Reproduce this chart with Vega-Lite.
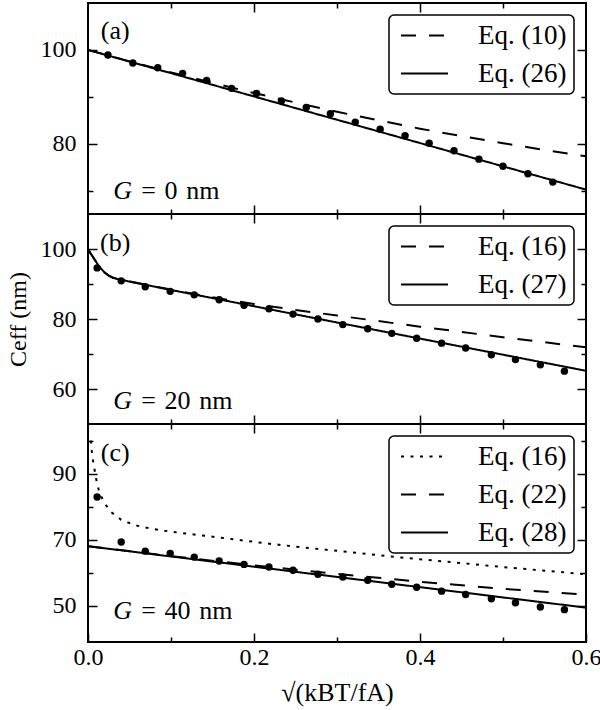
{
  "$schema": "https://vega.github.io/schema/vega-lite/v6.json",
  "background": "white",
  "padding": {"left": 5, "top": 1, "right": 8, "bottom": 5},
  "datasets": {
    "d": [
      {"p":"a","k":"pt","x":0.024,"y":98.9},{"p":"a","k":"pt","x":0.054,"y":97.2},{"p":"a","k":"pt","x":0.084,"y":96.2},{"p":"a","k":"pt","x":0.114,"y":95.0},{"p":"a","k":"pt","x":0.143,"y":93.5},{"p":"a","k":"pt","x":0.173,"y":91.8},{"p":"a","k":"pt","x":0.203,"y":90.7},{"p":"a","k":"pt","x":0.233,"y":89.1},{"p":"a","k":"pt","x":0.263,"y":87.7},{"p":"a","k":"pt","x":0.292,"y":86.4},{"p":"a","k":"pt","x":0.322,"y":84.6},{"p":"a","k":"pt","x":0.352,"y":83.1},{"p":"a","k":"pt","x":0.382,"y":81.7},{"p":"a","k":"pt","x":0.411,"y":80.1},{"p":"a","k":"pt","x":0.441,"y":78.5},{"p":"a","k":"pt","x":0.471,"y":76.7},{"p":"a","k":"pt","x":0.500,"y":75.2},{"p":"a","k":"pt","x":0.530,"y":73.6},{"p":"a","k":"pt","x":0.560,"y":71.8},
      {"p":"a","k":"line","s":"Eq. (10)","x":0,"y":100},{"p":"a","k":"line","s":"Eq. (10)","x":0.05,"y":97.55},{"p":"a","k":"line","s":"Eq. (10)","x":0.1,"y":95.2},{"p":"a","k":"line","s":"Eq. (10)","x":0.15,"y":92.96},{"p":"a","k":"line","s":"Eq. (10)","x":0.2,"y":90.8},{"p":"a","k":"line","s":"Eq. (10)","x":0.25,"y":88.77},{"p":"a","k":"line","s":"Eq. (10)","x":0.3,"y":86.8},{"p":"a","k":"line","s":"Eq. (10)","x":0.35,"y":84.99},{"p":"a","k":"line","s":"Eq. (10)","x":0.4,"y":83.2},{"p":"a","k":"line","s":"Eq. (10)","x":0.45,"y":81.61},{"p":"a","k":"line","s":"Eq. (10)","x":0.5,"y":80.1},{"p":"a","k":"line","s":"Eq. (10)","x":0.55,"y":78.64},{"p":"a","k":"line","s":"Eq. (10)","x":0.6,"y":77.3},
      {"p":"a","k":"line","s":"Eq. (26)","x":0,"y":100},{"p":"a","k":"line","s":"Eq. (26)","x":0.3,"y":85.1},{"p":"a","k":"line","s":"Eq. (26)","x":0.6,"y":70.2},

      {"p":"b","k":"pt","x":0.011,"y":94.6},{"p":"b","k":"pt","x":0.040,"y":90.9},{"p":"b","k":"pt","x":0.069,"y":89.2},{"p":"b","k":"pt","x":0.099,"y":87.9},{"p":"b","k":"pt","x":0.128,"y":86.9},{"p":"b","k":"pt","x":0.158,"y":85.5},{"p":"b","k":"pt","x":0.188,"y":83.9},{"p":"b","k":"pt","x":0.218,"y":82.9},{"p":"b","k":"pt","x":0.247,"y":81.4},{"p":"b","k":"pt","x":0.277,"y":80.0},{"p":"b","k":"pt","x":0.307,"y":78.4},{"p":"b","k":"pt","x":0.337,"y":77.2},{"p":"b","k":"pt","x":0.366,"y":75.9},{"p":"b","k":"pt","x":0.396,"y":74.5},{"p":"b","k":"pt","x":0.426,"y":73.1},{"p":"b","k":"pt","x":0.455,"y":71.7},{"p":"b","k":"pt","x":0.486,"y":69.8},{"p":"b","k":"pt","x":0.515,"y":68.4},{"p":"b","k":"pt","x":0.545,"y":66.9},{"p":"b","k":"pt","x":0.574,"y":65.1},
      {"p":"b","k":"line","s":"Eq. (16)","x":0,"y":100},{"p":"b","k":"line","s":"Eq. (16)","x":0.003,"y":98.8},{"p":"b","k":"line","s":"Eq. (16)","x":0.006,"y":97.7},{"p":"b","k":"line","s":"Eq. (16)","x":0.009,"y":96.6},{"p":"b","k":"line","s":"Eq. (16)","x":0.012,"y":95.5},{"p":"b","k":"line","s":"Eq. (16)","x":0.016,"y":94.3},{"p":"b","k":"line","s":"Eq. (16)","x":0.02,"y":93.3},{"p":"b","k":"line","s":"Eq. (16)","x":0.025,"y":92.4},{"p":"b","k":"line","s":"Eq. (16)","x":0.03,"y":91.8},{"p":"b","k":"line","s":"Eq. (16)","x":0.036,"y":91.4},{"p":"b","k":"line","s":"Eq. (16)","x":0.05,"y":90.7},{"p":"b","k":"line","s":"Eq. (16)","x":0.075,"y":89.5},{"p":"b","k":"line","s":"Eq. (16)","x":0.1,"y":88.4},{"p":"b","k":"line","s":"Eq. (16)","x":0.15,"y":86.2},{"p":"b","k":"line","s":"Eq. (16)","x":0.2,"y":84.3},{"p":"b","k":"line","s":"Eq. (16)","x":0.25,"y":82.6},{"p":"b","k":"line","s":"Eq. (16)","x":0.3,"y":81.0},{"p":"b","k":"line","s":"Eq. (16)","x":0.4,"y":77.8},{"p":"b","k":"line","s":"Eq. (16)","x":0.5,"y":74.8},{"p":"b","k":"line","s":"Eq. (16)","x":0.6,"y":71.9},
      {"p":"b","k":"line","s":"Eq. (27)","x":0,"y":100},{"p":"b","k":"line","s":"Eq. (27)","x":0.003,"y":98.8},{"p":"b","k":"line","s":"Eq. (27)","x":0.006,"y":97.7},{"p":"b","k":"line","s":"Eq. (27)","x":0.009,"y":96.6},{"p":"b","k":"line","s":"Eq. (27)","x":0.012,"y":95.5},{"p":"b","k":"line","s":"Eq. (27)","x":0.016,"y":94.3},{"p":"b","k":"line","s":"Eq. (27)","x":0.02,"y":93.3},{"p":"b","k":"line","s":"Eq. (27)","x":0.025,"y":92.4},{"p":"b","k":"line","s":"Eq. (27)","x":0.03,"y":91.8},{"p":"b","k":"line","s":"Eq. (27)","x":0.036,"y":91.4},{"p":"b","k":"line","s":"Eq. (27)","x":0.05,"y":90.7},{"p":"b","k":"line","s":"Eq. (27)","x":0.1,"y":88.3},{"p":"b","k":"line","s":"Eq. (27)","x":0.3,"y":79.0},{"p":"b","k":"line","s":"Eq. (27)","x":0.6,"y":65.2},

      {"p":"c","k":"pt","x":0.011,"y":82.9},{"p":"c","k":"pt","x":0.040,"y":69.3},{"p":"c","k":"pt","x":0.069,"y":66.5},{"p":"c","k":"pt","x":0.099,"y":65.8},{"p":"c","k":"pt","x":0.128,"y":64.7},{"p":"c","k":"pt","x":0.158,"y":63.5},{"p":"c","k":"pt","x":0.188,"y":62.5},{"p":"c","k":"pt","x":0.218,"y":61.7},{"p":"c","k":"pt","x":0.247,"y":60.7},{"p":"c","k":"pt","x":0.277,"y":59.5},{"p":"c","k":"pt","x":0.307,"y":58.7},{"p":"c","k":"pt","x":0.337,"y":57.7},{"p":"c","k":"pt","x":0.366,"y":56.5},{"p":"c","k":"pt","x":0.396,"y":55.6},{"p":"c","k":"pt","x":0.426,"y":54.4},{"p":"c","k":"pt","x":0.455,"y":53.4},{"p":"c","k":"pt","x":0.486,"y":52.1},{"p":"c","k":"pt","x":0.515,"y":50.9},{"p":"c","k":"pt","x":0.545,"y":49.6},{"p":"c","k":"pt","x":0.574,"y":48.8},
      {"p":"c","k":"line","s":"Eq. (16)","x":0.0035,"y":100},{"p":"c","k":"line","s":"Eq. (16)","x":0.0045,"y":97},{"p":"c","k":"line","s":"Eq. (16)","x":0.006,"y":94},{"p":"c","k":"line","s":"Eq. (16)","x":0.008,"y":91},{"p":"c","k":"line","s":"Eq. (16)","x":0.0105,"y":87.5},{"p":"c","k":"line","s":"Eq. (16)","x":0.013,"y":85},{"p":"c","k":"line","s":"Eq. (16)","x":0.0157,"y":83.2},{"p":"c","k":"line","s":"Eq. (16)","x":0.02,"y":81},{"p":"c","k":"line","s":"Eq. (16)","x":0.028,"y":78.3},{"p":"c","k":"line","s":"Eq. (16)","x":0.04,"y":76},{"p":"c","k":"line","s":"Eq. (16)","x":0.056,"y":74.4},{"p":"c","k":"line","s":"Eq. (16)","x":0.076,"y":73.3},{"p":"c","k":"line","s":"Eq. (16)","x":0.1,"y":72.4},{"p":"c","k":"line","s":"Eq. (16)","x":0.136,"y":71.3},{"p":"c","k":"line","s":"Eq. (16)","x":0.169,"y":70.3},{"p":"c","k":"line","s":"Eq. (16)","x":0.217,"y":68.8},{"p":"c","k":"line","s":"Eq. (16)","x":0.257,"y":67.7},{"p":"c","k":"line","s":"Eq. (16)","x":0.3,"y":66.6},{"p":"c","k":"line","s":"Eq. (16)","x":0.377,"y":64.6},{"p":"c","k":"line","s":"Eq. (16)","x":0.5,"y":61.7},{"p":"c","k":"line","s":"Eq. (16)","x":0.6,"y":59.5},
      {"p":"c","k":"line","s":"Eq. (22)","x":0,"y":68},{"p":"c","k":"line","s":"Eq. (22)","x":0.1,"y":65.0},{"p":"c","k":"line","s":"Eq. (22)","x":0.2,"y":62.2},{"p":"c","k":"line","s":"Eq. (22)","x":0.3,"y":59.6},{"p":"c","k":"line","s":"Eq. (22)","x":0.4,"y":57.25},{"p":"c","k":"line","s":"Eq. (22)","x":0.5,"y":55.1},{"p":"c","k":"line","s":"Eq. (22)","x":0.6,"y":53.3},
      {"p":"c","k":"line","s":"Eq. (28)","x":0,"y":68},{"p":"c","k":"line","s":"Eq. (28)","x":0.3,"y":58.7},{"p":"c","k":"line","s":"Eq. (28)","x":0.6,"y":49.4}
    ]
  },
  "spacing": 0,
  "bounds": "flush",
  "vconcat": [
    {
      "width": 498, "height": 211,
      "layer": [
        {
          "data": {"name": "d"},
          "transform": [{"filter": "datum.p == 'a' && datum.k == 'line'"}],
          "mark": {"type": "line", "color": "black", "strokeWidth": 2, "clip": true},
          "encoding": {
            "x": {"field": "x", "type": "quantitative", "scale": {"domain": [0, 0.6], "nice": false, "zero": false},
                  "axis": {"orient": "bottom", "values": [0.1, 0.2, 0.3, 0.4, 0.5], "labels": false, "title": null,
                           "tickDash": {"condition": {"test": "round(datum.value*10) % 2 == 0", "value": [9, 0]}, "value": [5, 20]}}},
            "y": {"field": "y", "type": "quantitative", "scale": {"domain": [65, 110], "nice": false, "zero": false},
                  "axis": {"orient": "left", "values": [70, 80, 90, 100], "title": null, "labelPadding": 21,
                           "labelExpr": "datum.value % 20 == 0 ? datum.label : ''",
                           "tickDash": {"condition": {"test": "datum.value % 20 == 0", "value": [9, 0]}, "value": [5, 20]}}},
            "strokeDash": {"field": "s", "type": "nominal",
                           "scale": {"domain": ["Eq. (10)", "Eq. (26)"], "range": [[15, 13], [1, 0]]},
                           "legend": {"title": null}}
          }
        },
        {
          "data": {"name": "d"},
          "transform": [{"filter": "datum.p == 'a' && datum.k == 'pt'"}],
          "mark": {"type": "circle", "color": "black", "size": 55, "opacity": 1},
          "encoding": {
            "x": {"field": "x", "type": "quantitative",
                  "axis": {"orient": "top", "values": [0.1, 0.2, 0.3, 0.4, 0.5], "labels": false, "title": null,
                           "tickDash": {"condition": {"test": "round(datum.value*10) % 2 == 0", "value": [9, 0]}, "value": [5, 20]}}},
            "y": {"field": "y", "type": "quantitative",
                  "axis": {"orient": "right", "values": [70, 80, 90, 100], "labels": false, "title": null,
                           "tickDash": {"condition": {"test": "datum.value % 20 == 0", "value": [9, 0]}, "value": [5, 20]}}}
          }
        },
        {
          "data": {"values": [{}]},
          "mark": {"type": "text", "text": "(a)", "font": "Liberation Serif", "fontSize": 26, "align": "left", "baseline": "middle", "color": "black"},
          "encoding": {"x": {"datum": 0.0155, "type": "quantitative", "axis": null}, "y": {"datum": 104, "type": "quantitative", "axis": null}}
        },
        {
          "data": {"values": [{}]},
          "mark": {"type": "text", "text": "G", "font": "Liberation Serif", "fontStyle": "italic", "fontSize": 26, "align": "left", "baseline": "middle", "color": "black"},
          "encoding": {"x": {"datum": 0.0303, "type": "quantitative", "axis": null}, "y": {"datum": 69.9, "type": "quantitative", "axis": null}}
        },
        {
          "data": {"values": [{}]},
          "mark": {"type": "text", "text": "=\u20040\u2004nm", "dx": 28, "font": "Liberation Serif", "fontSize": 26, "align": "left", "baseline": "middle", "color": "black"},
          "encoding": {"x": {"datum": 0.0303, "type": "quantitative", "axis": null}, "y": {"datum": 69.9, "type": "quantitative", "axis": null}}
        }
      ],
      "resolve": {"axis": {"x": "independent", "y": "independent"}}
    },
    {
      "width": 498, "height": 210,
      "layer": [
        {
          "data": {"name": "d"},
          "transform": [{"filter": "datum.p == 'b' && datum.k == 'line'"}],
          "mark": {"type": "line", "color": "black", "strokeWidth": 2, "clip": true},
          "encoding": {
            "x": {"field": "x", "type": "quantitative", "scale": {"domain": [0, 0.6], "nice": false, "zero": false},
                  "axis": {"orient": "bottom", "values": [0.1, 0.2, 0.3, 0.4, 0.5], "labels": false, "title": null,
                           "tickDash": {"condition": {"test": "round(datum.value*10) % 2 == 0", "value": [9, 0]}, "value": [5, 20]}}},
            "y": {"field": "y", "type": "quantitative", "scale": {"domain": [50, 110], "nice": false, "zero": false},
                  "axis": {"orient": "left", "values": [60, 70, 80, 90, 100], "title": "Ceff (nm)", "titlePadding": 10, "labelPadding": 21,
                           "labelExpr": "datum.value % 20 == 0 ? datum.label : ''",
                           "tickDash": {"condition": {"test": "datum.value % 20 == 0", "value": [9, 0]}, "value": [5, 20]}}},
            "strokeDash": {"field": "s", "type": "nominal",
                           "scale": {"domain": ["Eq. (16)", "Eq. (27)"], "range": [[15, 13], [1, 0]]},
                           "legend": {"title": null}}
          }
        },
        {
          "data": {"name": "d"},
          "transform": [{"filter": "datum.p == 'b' && datum.k == 'pt'"}],
          "mark": {"type": "circle", "color": "black", "size": 55, "opacity": 1},
          "encoding": {
            "x": {"field": "x", "type": "quantitative",
                  "axis": {"orient": "top", "values": [0.1, 0.2, 0.3, 0.4, 0.5], "labels": false, "title": null,
                           "tickDash": {"condition": {"test": "round(datum.value*10) % 2 == 0", "value": [9, 0]}, "value": [5, 20]}}},
            "y": {"field": "y", "type": "quantitative",
                  "axis": {"orient": "right", "values": [60, 70, 80, 90, 100], "labels": false, "title": null,
                           "tickDash": {"condition": {"test": "datum.value % 20 == 0", "value": [9, 0]}, "value": [5, 20]}}}
          }
        },
        {
          "data": {"values": [{}]},
          "mark": {"type": "text", "text": "(b)", "font": "Liberation Serif", "fontSize": 26, "align": "left", "baseline": "middle", "color": "black"},
          "encoding": {"x": {"datum": 0.0145, "type": "quantitative", "axis": null}, "y": {"datum": 101.7, "type": "quantitative", "axis": null}}
        },
        {
          "data": {"values": [{}]},
          "mark": {"type": "text", "text": "G", "font": "Liberation Serif", "fontStyle": "italic", "fontSize": 26, "align": "left", "baseline": "middle", "color": "black"},
          "encoding": {"x": {"datum": 0.0303, "type": "quantitative", "axis": null}, "y": {"datum": 56.7, "type": "quantitative", "axis": null}}
        },
        {
          "data": {"values": [{}]},
          "mark": {"type": "text", "text": "=\u200420\u2004nm", "dx": 28, "font": "Liberation Serif", "fontSize": 26, "align": "left", "baseline": "middle", "color": "black"},
          "encoding": {"x": {"datum": 0.0303, "type": "quantitative", "axis": null}, "y": {"datum": 56.7, "type": "quantitative", "axis": null}}
        }
      ],
      "resolve": {"axis": {"x": "independent", "y": "independent"}}
    },
    {
      "width": 498, "height": 218,
      "layer": [
        {
          "data": {"name": "d"},
          "transform": [{"filter": "datum.p == 'c' && datum.k == 'line'"}],
          "mark": {"type": "line", "color": "black", "strokeWidth": 2, "clip": true},
          "encoding": {
            "x": {"field": "x", "type": "quantitative", "scale": {"domain": [0, 0.6], "nice": false, "zero": false},
                  "axis": {"orient": "bottom", "values": [0, 0.1, 0.2, 0.3, 0.4, 0.5, 0.6], "title": "√(kBT/fA)", "titlePadding": 10, "titleFontSize": 26,
                           "format": ".1f", "labelExpr": "round(datum.value*10) % 2 == 0 ? datum.label : ''", "labelFlush": false,
                           "tickDash": {"condition": {"test": "round(datum.value*10) % 2 == 0", "value": [9, 0]}, "value": [5, 20]}}},
            "y": {"field": "y", "type": "quantitative", "scale": {"domain": [39, 105], "nice": false, "zero": false},
                  "axis": {"orient": "left", "values": [50, 60, 70, 80, 90, 100], "title": null, "labelPadding": 21,
                           "labelExpr": "(datum.value - 10) % 20 == 0 ? datum.label : ''",
                           "tickDash": {"condition": {"test": "(datum.value - 10) % 20 == 0", "value": [9, 0]}, "value": [5, 20]}}},
            "strokeDash": {"field": "s", "type": "nominal",
                           "scale": {"domain": ["Eq. (16)", "Eq. (22)", "Eq. (28)"], "range": [[3, 6.5], [15, 13], [1, 0]]},
                           "legend": {"title": null}}
          }
        },
        {
          "data": {"name": "d"},
          "transform": [{"filter": "datum.p == 'c' && datum.k == 'pt'"}],
          "mark": {"type": "circle", "color": "black", "size": 55, "opacity": 1},
          "encoding": {
            "x": {"field": "x", "type": "quantitative",
                  "axis": {"orient": "top", "values": [0.1, 0.2, 0.3, 0.4, 0.5], "labels": false, "title": null,
                           "tickDash": {"condition": {"test": "round(datum.value*10) % 2 == 0", "value": [9, 0]}, "value": [5, 20]}}},
            "y": {"field": "y", "type": "quantitative",
                  "axis": {"orient": "right", "values": [50, 60, 70, 80, 90, 100], "labels": false, "title": null,
                           "tickDash": {"condition": {"test": "(datum.value - 10) % 20 == 0", "value": [9, 0]}, "value": [5, 20]}}}
          }
        },
        {
          "data": {"values": [{}]},
          "mark": {"type": "text", "text": "(c)", "font": "Liberation Serif", "fontSize": 26, "align": "left", "baseline": "middle", "color": "black"},
          "encoding": {"x": {"datum": 0.0155, "type": "quantitative", "axis": null}, "y": {"datum": 96.1, "type": "quantitative", "axis": null}}
        },
        {
          "data": {"values": [{}]},
          "mark": {"type": "text", "text": "G", "font": "Liberation Serif", "fontStyle": "italic", "fontSize": 26, "align": "left", "baseline": "middle", "color": "black"},
          "encoding": {"x": {"datum": 0.0303, "type": "quantitative", "axis": null}, "y": {"datum": 48.5, "type": "quantitative", "axis": null}}
        },
        {
          "data": {"values": [{}]},
          "mark": {"type": "text", "text": "=\u200440\u2004nm", "dx": 28, "font": "Liberation Serif", "fontSize": 26, "align": "left", "baseline": "middle", "color": "black"},
          "encoding": {"x": {"datum": 0.0303, "type": "quantitative", "axis": null}, "y": {"datum": 48.5, "type": "quantitative", "axis": null}}
        }
      ],
      "resolve": {"axis": {"x": "independent", "y": "independent"}}
    }
  ],
  "resolve": {"scale": {"strokeDash": "independent"}, "legend": {"strokeDash": "independent"}},
  "config": {
    "font": "Liberation Serif",
    "view": {"stroke": "black", "strokeWidth": 2},
    "axis": {"domain": false, "grid": false, "labelFont": "Liberation Serif", "labelFontSize": 24, "labelColor": "black",
             "tickSize": -9, "labelPadding": 12,
             "tickColor": "black", "tickWidth": 1.5, "titleFont": "Liberation Serif", "titleFontSize": 24, "titleFontWeight": "normal", "titleColor": "black"},
    "legend": {"orient": "top-right", "offset": 12, "padding": 7, "strokeColor": "black", "strokeWidth": 1.5, "fillColor": "white", "cornerRadius": 5,
               "labelFont": "Liberation Serif", "labelFontSize": 27, "labelColor": "black", "labelOffset": 40, "labelLimit": 300,
               "symbolType": "M-2,0H2", "symbolSize": 552, "symbolOffset": 15, "symbolStrokeWidth": 2, "symbolStrokeColor": "black", "symbolFillColor": "transparent", "rowPadding": 10}
  }
}
